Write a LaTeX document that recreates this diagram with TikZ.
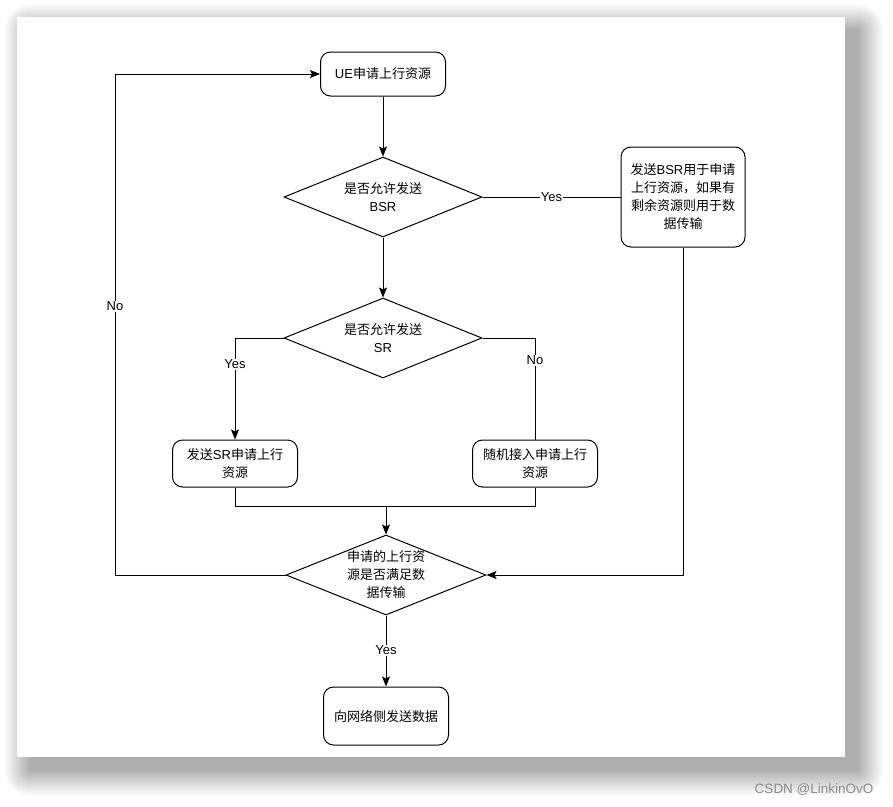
\documentclass[tikz,border=0pt]{standalone}
\usepackage{fontspec}
\setmainfont{Liberation Sans}
\newfontfamily\cjkf{Noto Sans CJK SC}
\newcommand{\cj}[1]{{\cjkf #1}}
\usetikzlibrary{shapes.geometric,arrows.meta}
\begin{document}
\begin{tikzpicture}[x=1pt,y=-1pt,
  every node/.style={font=\fontsize{13}{18}\selectfont},
  box/.style={draw,line width=1pt,rounded corners=10pt,minimum width=125pt,minimum height=46pt,align=center,inner sep=2pt,fill=white},
  dia/.style={draw,line width=1pt,diamond,minimum width=198pt,minimum height=80pt,inner sep=0pt,aspect=2.5,align=center},
  conn/.style={line width=1pt},
  arr/.style={line width=1pt,-{Stealth[length=10pt,width=8pt,inset=2pt]}},
  lbl/.style={fill=white,inner sep=1pt}]
\useasboundingbox (0,0) rectangle (893,806);
\fill[white] (0,0) rectangle (893,806);
% shadow
\foreach \i in {0,...,26}{
  \fill[black,opacity=0.011,rounded corners=\i pt] (30-\i,30-\i) rectangle (858+\i,770+\i);
}
\fill[white] (17,17) rectangle (845,757);
% nodes
\node[box,minimum height=44pt] (b1) at (383,74) {UE\cj{申请上行资源}};
\node[dia] (d1) at (383,197) {\cj{是否允许发送}\\BSR};
\node[box,minimum width=124pt,minimum height=100pt] (bR) at (683,197) {\cj{发送}BSR\cj{用于申请}\\\cj{上行资源，如果有}\\\cj{剩余资源则用于数}\\\cj{据传输}};
\node[dia] (d2) at (383,338) {\cj{是否允许发送}\\SR};
\node[box,minimum height=47pt] (bSR) at (235,463.5) {\cj{发送}SR\cj{申请上行}\\\cj{资源}};
\node[box,minimum height=47pt] (bRA) at (535,463.5) {\cj{随机接入申请上行}\\\cj{资源}};
\node[dia,minimum width=200pt] (d3) at (386,575) {\cj{申请的上行资}\\\cj{源是否满足数}\\\cj{据传输}};
\node[box,minimum height=58pt] (b5) at (386,716) {\cj{向网络侧发送数据}};
\coordinate (j) at (386,506);
\coordinate (lx) at (115,0);
% connectors
\draw[arr] (b1) -- (d1);
\draw[conn] (d1.east) -- node[lbl,pos=0.5]{Yes} (bR.west);
\draw[arr] (bR.south) |- (d3.east);
\draw[arr] (d1) -- (d2);
\draw[arr] (d2.west) -| node[lbl,pos=0.63]{Yes} (bSR.north);
\draw[conn] (d2.east) -| node[lbl,pos=0.61]{No} (bRA.north);
\draw[conn] (bSR.south) |- (j);
\draw[conn] (bRA.south) |- (j);
\draw[arr] (j) -- (d3.north);
\draw[arr] (d3.south) -- node[lbl,pos=0.49]{Yes} (b5.north);
\draw[arr] (d3.west) -| node[lbl,pos=0.768]{No} (lx |- b1.west) -- (b1.west);
% watermark
\node[anchor=east,text=black!45,font=\fontsize{13.5}{16}\selectfont] (wm) at (877,790) {CSDN @LinkinOvO};
\end{tikzpicture}
\end{document}
